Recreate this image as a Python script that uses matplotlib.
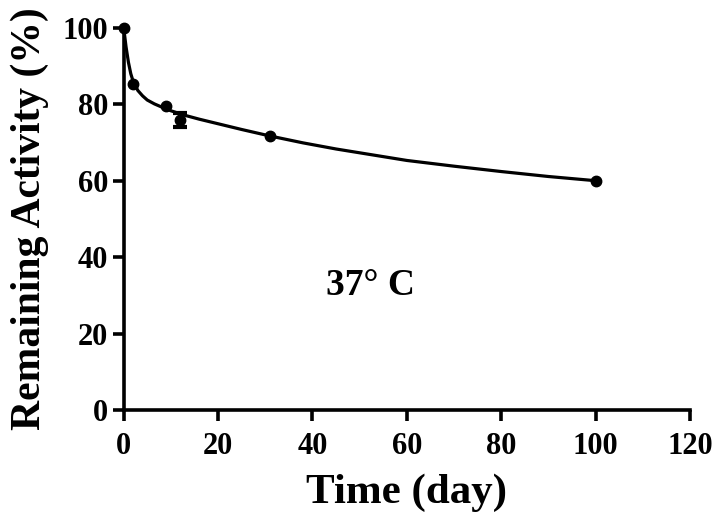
import matplotlib
matplotlib.use("Agg")
import matplotlib.pyplot as plt

# measured points
days = [0, 2, 9, 12, 31, 100]
activity = [100, 85.3, 79.6, 75.9, 71.6, 60.0]
activity_err = [0, 0, 0, 1.8, 0, 0]

# fitted curve
curve_days = [0, 0.5, 1, 1.5, 2, 3, 4, 5, 6.5, 8, 10, 13, 16, 20, 25, 31,
              38, 45, 52, 60, 70, 80, 90, 100]
curve_activity = [100, 95, 91, 88, 86, 83.6, 82.2, 81.1, 80.1, 79.3, 78.3,
                  77.1, 76.1, 74.9, 73.4, 71.7, 69.9, 68.3, 66.9, 65.3,
                  63.8, 62.4, 61.1, 60.0]

plt.rcParams["font.family"] = ["Liberation Serif", "DejaVu Serif"]
plt.rcParams["font.weight"] = "bold"

fig = plt.figure(figsize=(7.15, 5.25), dpi=100)
ax = fig.add_axes([0.173, 0.219, 0.792, 0.728])

ax.plot(curve_days, curve_activity, "k-", lw=2.3, clip_on=False)
ax.plot(days, activity, "o", color="k", ms=7.5, clip_on=False, zorder=3)

# error bars only where there is a spread
eb = [(d, a, e) for d, a, e in zip(days, activity, activity_err) if e > 0]
ax.errorbar([p[0] for p in eb], [p[1] for p in eb], yerr=[p[2] for p in eb],
            fmt="none", ecolor="k", elinewidth=3, capsize=5, capthick=3,
            clip_on=False, zorder=3)

ax.set_xlim(0, 120)
ax.set_ylim(0, 100)
ax.set_xticks(range(0, 121, 20))
ax.set_yticks(range(0, 101, 20))

for side in ("top", "right"):
    ax.spines[side].set_visible(False)
for side in ("left", "bottom"):
    ax.spines[side].set_linewidth(2.6)
ax.tick_params(direction="out", length=8, width=2.6, labelsize=22)
ax.tick_params(axis="x", pad=8)
ax.tick_params(axis="y", pad=3)
for lab in ax.get_xticklabels() + ax.get_yticklabels():
    lab.set_fontweight("bold")

ax.set_xlabel("Time (day)", fontsize=31, fontweight="bold", labelpad=9)
ax.set_ylabel("Remaining Activity (%)", fontsize=30, fontweight="bold", labelpad=10)

ax.text(52.4, 32.6, "37° C", fontsize=27, fontweight="bold", ha="center", va="center")

fig.savefig("out.png", dpi=100)
